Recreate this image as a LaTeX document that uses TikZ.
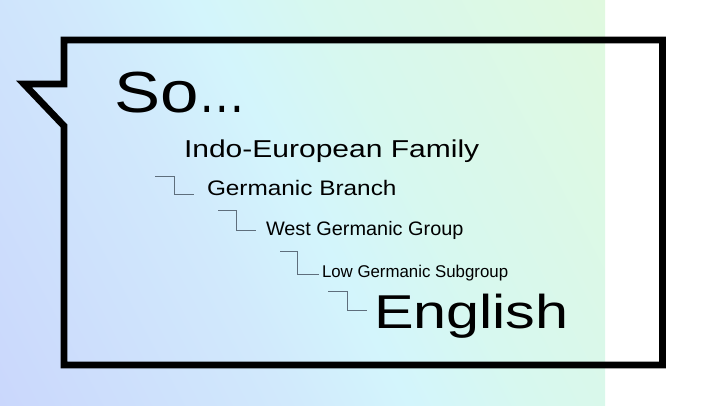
\documentclass[tikz,border=0pt]{standalone}
\usepackage{fontspec}
\setmainfont{Liberation Sans}
\definecolor{elbowgray}{HTML}{5E6E7C}
\definecolor{bgA}{HTML}{CAD7FC}
\definecolor{bgB}{HTML}{D1E9FC}
\definecolor{bgC}{HTML}{D3F5FC}
\definecolor{bgD}{HTML}{D7F8EF}
\definecolor{bgE}{HTML}{E0F9DF}
\pgfdeclareverticalshading{bgshade}{100bp}{%
  color(0bp)=(bgA); color(16bp)=(bgA); color(40bp)=(bgB); color(50bp)=(bgC);
  color(60bp)=(bgD); color(84bp)=(bgE); color(100bp)=(bgE)}
\tikzset{
  txt/.style={anchor=base west, inner sep=0pt, outer sep=0pt, text=black},
  elbow/.style={draw=elbowgray, line width=0.9pt},
  frame/.style={draw=black, line width=6.8pt, line join=miter, miter limit=10}
}
\newcommand{\fsz}[1]{\fontsize{#1}{#1}\selectfont}
\begin{document}
\begin{tikzpicture}[x=1pt,y=-1pt]
\useasboundingbox (0,0) rectangle (720,405);
\fill[white] (0,0) rectangle (720,405);
\shade[shading=bgshade, shading angle=-62] (0,0) rectangle (605,405);
% callout frame
\draw[frame] (64,84) -- (64,40) -- (662.5,40) -- (662.5,365) -- (64,365) -- (64,126) -- (24,84) -- cycle;
% texts
\node[txt] (so) at (114,112) {\fsz{58}\scalebox{1.19}[1]{So}\scalebox{0.82}[1]{…}};
\node[txt] (ie) at (184,157) {\fsz{24.4}\scalebox{1.23}[1]{Indo-European Family}};
\node[txt] (gb) at (207,195) {\fsz{21}\scalebox{1.16}[1]{Germanic Branch}};
\node[txt] (wg) at (266,235) {\fsz{19.5}\scalebox{1.02}[1]{West Germanic Group}};
\node[txt] (lg) at (322,277.5) {\fsz{17}\scalebox{0.99}[1]{Low Germanic Subgroup}};
\node[txt] (en) at (374,328) {\fsz{47.5}\scalebox{1.25}[1]{English}};
% elbow connectors
\coordinate (e1) at (155,176);
\coordinate (e2) at (218,210);
\coordinate (e3) at (280,251);
\coordinate (e4) at (328,291);
\draw[elbow] (e1) -- ++(19,0) |- ([xshift=-13pt,yshift=1pt]gb.base west);
\draw[elbow] (e2) -- ++(18,0) |- ([xshift=-10pt,yshift=5pt]wg.base west);
\draw[elbow] (e3) -- ++(17,0) |- ([xshift=-3pt,yshift=3pt]lg.base west);
\draw[elbow] (e4) -- ++(19,0) |- ([xshift=-7pt,yshift=18pt]en.base west);
\end{tikzpicture}
\end{document}
